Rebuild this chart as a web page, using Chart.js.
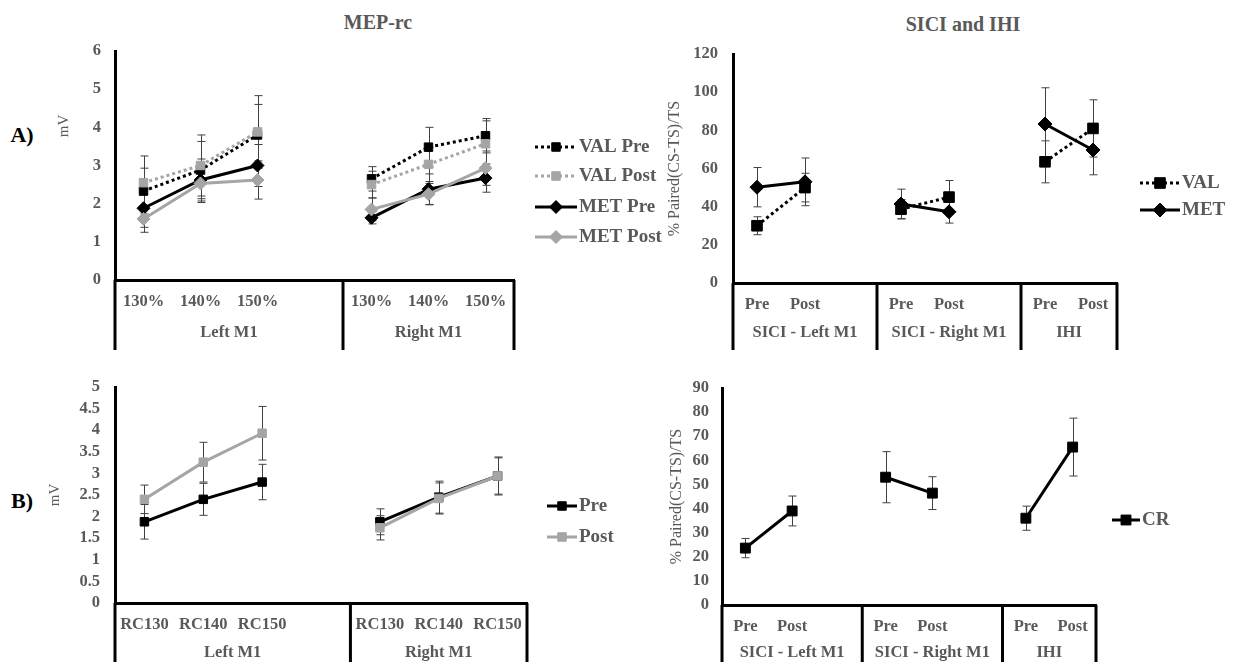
<!DOCTYPE html>
<html>
<head>
<meta charset="utf-8">
<title>MEP-rc / SICI and IHI</title>
<script src="https://cdn.jsdelivr.net/npm/chart.js@4.4.1/dist/chart.umd.min.js"></script>
<style>
  body { margin: 0; background: #fff; width: 1233px; height: 662px; position: relative; overflow: hidden; font-family: "Liberation Serif", "Times New Roman", serif; }
  .panel { position: absolute; }
  .lbl { position: absolute; white-space: nowrap; transform: translate(-50%, -50%); }
  .head { font-size: 20px; font-weight: bold; color: #595959; }
  .tag { font-size: 22px; font-weight: bold; color: #000; }
</style>
</head>
<body>
<div class="lbl head" style="left:378px;top:22px">MEP-rc</div>
<div class="lbl head" style="left:963px;top:24px">SICI and IHI</div>
<div class="lbl tag" style="left:22px;top:135px">A)</div>
<div class="lbl tag" style="left:22px;top:501px">B)</div>
<div class="lbl" style="left:63px;top:126px;font-size:15px;color:#595959;transform:translate(-50%,-50%) rotate(-90deg)">mV</div>

<div class="panel" style="left:0;top:0"><canvas id="cMep" width="680" height="350"></canvas></div>
<div class="panel" style="left:630px;top:0"><canvas id="cSici" width="603" height="350"></canvas></div>
<div class="panel" style="left:0;top:345px"><canvas id="cRc" width="680" height="317"></canvas></div>
<div class="panel" style="left:630px;top:345px"><canvas id="cCr" width="603" height="317"></canvas></div>

<script>
// ---- dados: MEP-rc (A, esquerda) ----
const mepCats = ["130%", "140%", "150%", "", "130%", "140%", "150%"];
const mepGroups = ["Left M1", "Right M1"];
const mepGroupStarts = [0, 4];
const valPre = [2.33, 2.88, 3.8, null, 2.65, 3.48, 3.78];
const valPreErr = [0.6, 0.75, 0.8, null, 0.32, 0.52, 0.45];
const valPost = [2.55, 3.0, 3.88, null, 2.5, 3.03, 3.57];
const valPostErr = [0.7, 0.8, 0.95, null, 0.35, 0.45, 0.6];
const metPre = [1.88, 2.62, 3.0, null, 1.63, 2.38, 2.67];
const metPreErr = [0.5, 0.55, 0.55, null, 0.16, 0.4, 0.37];
const metPost = [1.6, 2.53, 2.62, null, 1.85, 2.25, 2.93];
const metPostErr = [0.35, 0.5, 0.5, null, 0.3, 0.28, 0.45];

// ---- dados: SICI and IHI (A, direita) ----
const siciCats = ["Pre", "Post", "", "Pre", "Post", "", "Pre", "Post"];
const siciGroups = ["SICI - Left M1", "SICI - Right M1", "IHI"];
const siciGroupStarts = [0, 3, 6];
const valSici = [30, 50, null, 38.7, 45, null, 63.5, 81];
const valSiciErr = [4.7, 7.5, null, 5, 8.7, null, 11, 15];
const metSici = [50.2, 53, null, 41.4, 37.3, null, 83.3, 69.7];
const metSiciErr = [10.3, 12.5, null, 7.8, 5.9, null, 19, 13];

// ---- dados: RC (B, esquerda) ----
const rcCats = ["RC130", "RC140", "RC150", "", "RC130", "RC140", "RC150"];
const rcPre = [1.88, 2.4, 2.8, null, 1.88, 2.45, 2.94];
const rcPreErr = [0.4, 0.37, 0.41, null, 0.3, 0.37, 0.44];
const rcPost = [2.4, 3.26, 3.93, null, 1.74, 2.42, 2.94];
const rcPostErr = [0.33, 0.46, 0.62, null, 0.28, 0.36, 0.42];

// ---- dados: CR (B, direita) ----
const crVals = [23.6, 39, null, 53, 46.4, null, 36, 65.5];
const crErr = [4, 6.2, null, 10.6, 6.8, null, 5, 12];

const BLACK = "#000000";
const GREY = "#a5a5a5";
const TEXT = "#595959";
const FONT = "'Liberation Serif', 'Times New Roman', serif";
const DOT = [3, 3];

function serie(label, data, errors, color, dash, style, radius) {
  return {
    label, data, errors,
    borderColor: color, backgroundColor: color, borderWidth: 3, borderDash: dash,
    pointStyle: style, pointRadius: radius, pointBorderWidth: 1,
    pointBackgroundColor: color, pointBorderColor: color,
    tension: 0, spanGaps: false, fill: false,
  };
}

// Barras de erro (acima/abaixo de cada ponto)
const errorBars = {
  id: "errorBars",
  beforeDatasetsDraw(chart) {
    const { ctx } = chart;
    const y = chart.scales.y;
    ctx.save();
    ctx.strokeStyle = "#404040";
    ctx.lineWidth = 1;
    chart.data.datasets.forEach((ds, di) => {
      const meta = chart.getDatasetMeta(di);
      ds.data.forEach((v, i) => {
        const e = ds.errors ? ds.errors[i] : null;
        if (v == null || e == null) return;
        const px = Math.round(meta.data[i].x) + 0.5;
        const top = y.getPixelForValue(v + e);
        const bot = y.getPixelForValue(v - e);
        ctx.beginPath();
        ctx.moveTo(px, top); ctx.lineTo(px, bot);
        ctx.moveTo(px - 4, top); ctx.lineTo(px + 4, top);
        ctx.moveTo(px - 4, bot); ctx.lineTo(px + 4, bot);
        ctx.stroke();
      });
    });
    ctx.restore();
  },
};

// Caixa do eixo de categorias com rótulos de grupo
const groupBox = {
  id: "groupBox",
  afterDraw(chart, args, o) {
    const { ctx, chartArea } = chart;
    const x = chart.scales.x;
    const n = chart.data.labels.length;
    const half = (x.getPixelForValue(1) - x.getPixelForValue(0)) / 2;
    const edge = (i) => (i >= n ? x.getPixelForValue(n - 1) + half : x.getPixelForValue(i) - half);
    const cuts = [...o.starts, n];
    ctx.save();
    ctx.strokeStyle = BLACK;
    ctx.lineWidth = 3;
    cuts.forEach((i) => {
      const px = edge(i);
      ctx.beginPath();
      ctx.moveTo(px, chartArea.bottom);
      ctx.lineTo(px, chart.height);
      ctx.stroke();
    });
    ctx.fillStyle = TEXT;
    ctx.font = "bold 16.5px " + FONT;
    ctx.textAlign = "center";
    ctx.textBaseline = "middle";
    o.starts.forEach((s, k) => {
      ctx.fillText(o.labels[k], (edge(s) + edge(cuts[k + 1])) / 2, o.labelY);
    });
    ctx.restore();
  },
};

// Legenda no estilo linha + marcador
const lineLegend = {
  id: "lineLegend",
  afterDraw(chart, args, o) {
    const ctx = chart.ctx;
    chart.data.datasets.forEach((ds, i) => {
      const y = o.ys[i];
      ctx.save();
      ctx.strokeStyle = ds.borderColor;
      ctx.lineWidth = 3;
      ctx.setLineDash(ds.borderDash || []);
      ctx.beginPath();
      ctx.moveTo(o.x, y);
      ctx.lineTo(o.x + o.len, y);
      ctx.stroke();
      ctx.setLineDash([]);
      ctx.fillStyle = ds.backgroundColor;
      ctx.lineWidth = 1;
      Chart.helpers.drawPoint(ctx, { pointStyle: ds.pointStyle, radius: ds.pointRadius, rotation: 0, borderWidth: 1 }, o.x + o.len / 2, y);
      ctx.fillStyle = TEXT;
      ctx.font = "bold 19px " + FONT;
      ctx.textAlign = "left";
      ctx.textBaseline = "middle";
      ctx.fillText(ds.label, o.x + o.len + 2, y);
      ctx.restore();
    });
  },
};

function painel(id, p) {
  const sets = p.series.map((s, i) => Object.assign(s, { order: p.series.length - i }));
  const axisFont = { family: FONT, size: 16.5, weight: "bold" };
  return new Chart(document.getElementById(id), {
    type: "line",
    data: { labels: p.cats, datasets: sets },
    options: {
      responsive: false,
      animation: false,
      events: [],
      layout: { padding: { left: p.padLeft, top: p.area.top, right: p.w - p.area.right, bottom: 0 } },
      plugins: {
        legend: { display: false },
        tooltip: { enabled: false },
        groupBox: { starts: p.starts, labels: p.groups, labelY: p.groupY },
        lineLegend: p.legend,
      },
      scales: {
        x: {
          type: "category",
          offset: true,
          grid: { display: false, drawTicks: false },
          border: { display: true, color: BLACK, width: 3 },
          ticks: { autoSkip: false, maxRotation: 0, padding: 12, color: TEXT, font: axisFont },
          afterFit: (s) => { s.height = p.h - p.area.bottom; },
        },
        y: {
          min: 0,
          max: p.yMax,
          grid: { display: false, drawTicks: false },
          border: { display: true, color: BLACK, width: 3 },
          ticks: {
            stepSize: p.yStep, autoSkip: false, padding: p.tickPad, color: TEXT,
            font: { family: FONT, size: 16.5, weight: "bold", lineHeight: 1 },
            callback: (v) => String(v),
          },
          title: p.yTitle
            ? { display: true, text: p.yTitle, color: TEXT, padding: 0, font: { family: FONT, size: p.yTitleSize } }
            : { display: false },
          afterFit: (s) => { s.width = p.area.left - p.padLeft; },
        },
      },
    },
    plugins: [errorBars, groupBox, lineLegend],
  });
}

painel("cMep", {
  w: 680, h: 350, padLeft: 50, tickPad: 14,
  area: { left: 115, top: 51, right: 514, bottom: 280 },
  cats: mepCats, starts: mepGroupStarts, groups: mepGroups, groupY: 333,
  yMax: 6, yStep: 1, yTitle: null,
  legend: { x: 535, ys: [147, 176, 207, 237], len: 42 },
  series: [
    serie("VAL Pre", valPre, valPreErr, BLACK, DOT, "rect", 6),
    serie("VAL Post", valPost, valPostErr, GREY, DOT, "rect", 6),
    serie("MET Pre", metPre, metPreErr, BLACK, [], "rectRot", 6.5),
    serie("MET Post", metPost, metPostErr, GREY, [], "rectRot", 6.5),
  ],
});

painel("cSici", {
  w: 603, h: 350, padLeft: 35, tickPad: 15,
  area: { left: 103, top: 54, right: 487, bottom: 283 },
  cats: siciCats, starts: siciGroupStarts, groups: siciGroups, groupY: 333,
  yMax: 120, yStep: 20, yTitle: "% Paired(CS-TS)/TS", yTitleSize: 16,
  legend: { x: 510, ys: [183, 210], len: 40 },
  series: [
    serie("VAL", valSici, valSiciErr, BLACK, DOT, "rect", 7.5),
    serie("MET", metSici, metSiciErr, BLACK, [], "rectRot", 7),
  ],
});

painel("cRc", {
  w: 680, h: 317, padLeft: 46, tickPad: 15,
  area: { left: 115, top: 42, right: 527, bottom: 258 },
  cats: rcCats, starts: mepGroupStarts, groups: mepGroups, groupY: 308,
  yMax: 5, yStep: 0.5, yTitle: "mV", yTitleSize: 15,
  legend: { x: 547, ys: [161, 192], len: 30 },
  series: [
    serie("Pre", rcPre, rcPreErr, BLACK, [], "rect", 6),
    serie("Post", rcPost, rcPostErr, GREY, [], "rect", 6),
  ],
});

painel("cCr", {
  w: 603, h: 317, padLeft: 37, tickPad: 13,
  area: { left: 92, top: 43, right: 466, bottom: 260 },
  cats: siciCats, starts: siciGroupStarts, groups: siciGroups, groupY: 308,
  yMax: 90, yStep: 10, yTitle: "% Paired(CS-TS)/TS", yTitleSize: 16,
  legend: { x: 482, ys: [175], len: 28 },
  series: [
    serie("CR", crVals, crErr, BLACK, [], "rect", 7),
  ],
});
</script>
</body>
</html>
